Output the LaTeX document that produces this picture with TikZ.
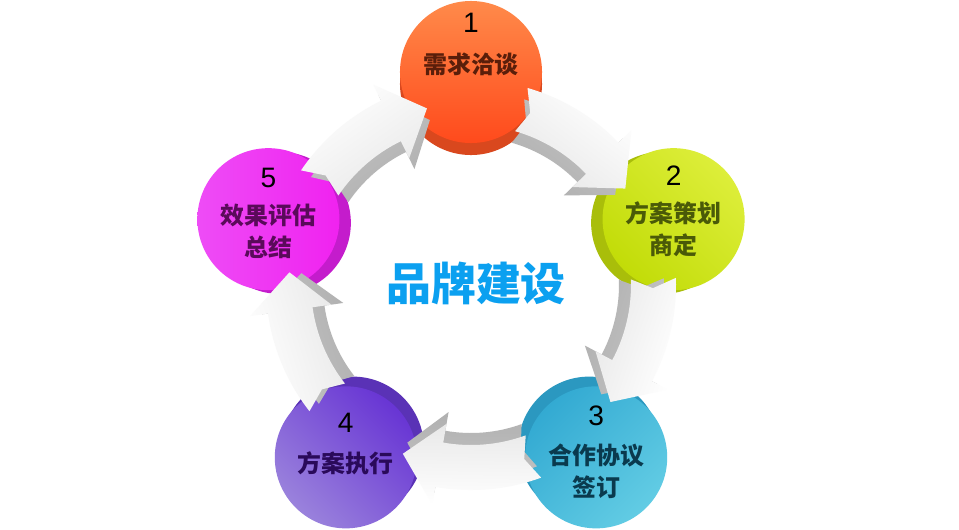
\documentclass[tikz,border=0pt]{standalone}
\usepackage{fontspec}
\usepackage{xcolor}
\usetikzlibrary{positioning}
\newfontfamily\cjk{Noto Sans CJK SC}
\newfontfamily\numfont{Liberation Sans}

\definecolor{redtop}{HTML}{FF8A4A}
\definecolor{redbot}{HTML}{FF4A1C}
\definecolor{redside}{HTML}{D9481E}
\definecolor{redtext}{HTML}{5A1E0A}
\definecolor{limetop}{HTML}{DDEE3A}
\definecolor{limebot}{HTML}{C2DC08}
\definecolor{limeside}{HTML}{A9BE0A}
\definecolor{limetext}{HTML}{4A5A08}
\definecolor{cyantop}{HTML}{33AAD2}
\definecolor{cyanbot}{HTML}{62CCE4}
\definecolor{cyanside}{HTML}{2B98C0}
\definecolor{cyantext}{HTML}{0A3A4E}
\definecolor{violettop}{HTML}{6835D4}
\definecolor{violetbot}{HTML}{9A82DC}
\definecolor{violetside}{HTML}{5A32B6}
\definecolor{violettext}{HTML}{2A0A5A}
\definecolor{pinktop}{HTML}{EE4CF6}
\definecolor{pinkbot}{HTML}{F022F0}
\definecolor{pinkside}{HTML}{C41CCC}
\definecolor{pinktext}{HTML}{5A0A5A}
\definecolor{titleblue}{HTML}{0BA0F0}

\tikzset{
  disc/.style={circle, minimum size=3.55cm, inner sep=0pt},
  numtxt/.style={font=\numfont\fontsize{20}{24}\selectfont, text=black},
  steptxt/.style={font=\cjk\bfseries\fontsize{17}{22.7}\selectfont, align=center},
  arrowside/.style={top color=gray!45, bottom color=gray!62},
  arrowface/.style={top color=white, bottom color=gray!18}
}

\begin{document}
\begin{tikzpicture}[x=0.025cm, y=0.025cm]
\fill[white] (-471,-244) rectangle (488,285);
\coordinate (O) at (0,0);

\node[disc, fill=redside] (s1) at (90:201) {};
\node[disc, top color=redtop, bottom color=redbot] (c1) at (90:213) {};
\node[disc, fill=limeside] (s2) at (18:201) {};
\node[disc, top color=limetop, bottom color=limebot, shading angle=-45] (c2) at (18:213) {};
\node[disc, fill=cyanside] (s3) at (-54:201) {};
\node[disc, top color=cyantop, bottom color=cyanbot, shading angle=45] (c3) at (-54:213) {};
\node[disc, fill=violetside] (s4) at (-126:201) {};
\node[disc, top color=violettop, bottom color=violetbot, shading angle=-45] (c4) at (-126:213) {};
\node[disc, fill=pinkside] (s5) at (162:201) {};
\node[disc, top color=pinktop, bottom color=pinkbot, shading angle=90] (c5) at (162:213) {};

% c1->c2, c2->c3, c3->c4, c4->c5, c5->c1
\foreach \a/\b in {74/32, 2/-40, -70/-112, -142/-184, 146/104} {
  \pgfmathsetmacro\m{(\a+\b)/2-90}
  \path[arrowside, shading angle=\m] (\a:193) arc[start angle=\a, end angle=\b+12, radius=193]
    -- (\b+12:211) -- (\b:170) -- (\b+12:129) -- (\b+12:148)
    arc[start angle=\b+12, end angle=\a, radius=148] -- (\a-3:170) -- cycle;
  \path[arrowface, shading angle=\m] (\a:205) arc[start angle=\a, end angle=\b+12, radius=205]
    -- (\b+12:223) -- (\b:182) -- (\b+12:141) -- (\b+12:160)
    arc[start angle=\b+12, end angle=\a, radius=160] -- (\a-3:182) -- cycle;
}

\node[numtxt] (n1) at ([yshift=1.22cm]c1.center) {1};
\node[steptxt, text=redtext] (t1) at ([yshift=0.18cm]c1.center) {需求洽谈};
\node[numtxt] (n2) at ([yshift=1.08cm]c2.center) {2};
\node[steptxt, text=limetext] (t2) at ([yshift=-0.25cm]c2.center) {方案策划\\商定};
\node[numtxt] (n3) at ([yshift=1.05cm]c3.center) {3};
\node[steptxt, text=cyantext] (t3) at ([yshift=-0.36cm]c3.center) {合作协议\\签订};
\node[numtxt] (n4) at ([yshift=0.85cm]c4.center) {4};
\node[steptxt, text=violettext] (t4) at ([yshift=-0.15cm]c4.center) {方案执行};
\node[numtxt] (n5) at ([yshift=1.02cm]c5.center) {5};
\node[steptxt, text=pinktext] (t5) at ([yshift=-0.3cm]c5.center) {效果评估\\总结};

\node[font=\cjk\bfseries\fontsize{32}{36}\selectfont, text=titleblue] (title) at (5,2) {品牌建设};
\end{tikzpicture}
\end{document}
